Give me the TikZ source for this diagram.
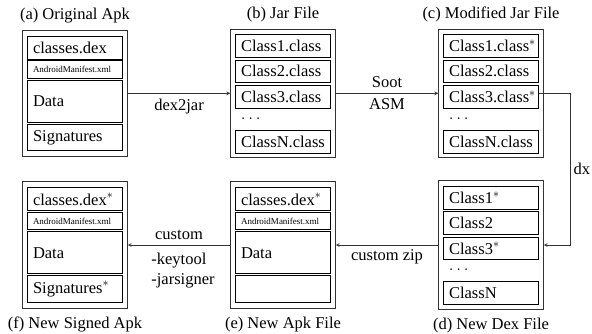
\documentclass[tikz,border=0pt]{standalone}
\usepackage{fontspec}
\setmainfont{Liberation Serif}
\usetikzlibrary{positioning}
\begin{document}
\begin{tikzpicture}[x=1pt,y=1pt,font=\fontsize{16.5}{20}\selectfont,
  box/.style={draw=black!80,line width=0.6pt,minimum width=105pt,inner sep=0pt},
  part/.style={draw,line width=0.8pt,anchor=north,minimum width=94.5pt,text width=84pt,inner xsep=5.25pt,inner ysep=0pt,align=left},
  small/.style={font=\fontsize{9}{10}\selectfont},
  flow/.style={-stealth,line width=0.7pt,black!80},
  lbl/.style={inner sep=5pt,text=black}]
\useasboundingbox(0,0)rectangle(592,-333);
\pgfmathsetmacro{\kup}{-93.3}
\pgfmathsetmacro{\kdn}{-245}
\pgfmathsetmacro{\kapk}{126.5}
\pgfmathsetmacro{\kjar}{128.5}
\pgfmathsetmacro{\kstep}{25.3}
% apk files
\foreach \c/\cx/\cy/\sa/\sb in {a/75/\kup/{classes.dex}/{Signatures},e/283/\kdn/{classes.dex$^*$}/{},f/75/\kdn/{classes.dex$^*$}/{Signatures$^*$}}{
  \draw(\cx,\cy)node[box,minimum height=\kapk](\c){};
  \node[part,minimum height=23](\c1)at([yshift=-6]\c.north){\sa};
  \node[part,small,minimum height=17.5](\c2)at([yshift=-30.5]\c.north){AndroidManifest.xml};
  \node[part,minimum height=42](\c3)at([yshift=-50]\c.north){Data};
  \node[part,minimum height=26.5](\c4)at([yshift=-94]\c.north){\sb};
}
% jar and dex files
\foreach \c/\cx/\cy/\la/\lb/\lc/\ln in {b/283/\kup/{Class1.class}/{Class2.class}/{Class3.class}/{ClassN.class},c/491/\kup/{Class1.class$^*$}/{Class2.class}/{Class3.class$^*$}/{ClassN.class},d/491/\kdn/{Class1$^*$}/{Class2}/{Class3$^*$}/{ClassN}}{
  \draw(\cx,\cy)node[box,minimum height=\kjar](\c){};
  \node[part,minimum height=22.8](\c1)at([yshift=-5.5]\c.north){\la};
  \node[part,minimum height=22.8](\c2)at([yshift=-5.5-\kstep]\c.north){\lb};
  \node[part,minimum height=22.8](\c3)at([yshift=-5.5-2*\kstep]\c.north){\lc};
  \node[anchor=west,inner sep=0pt](\c dots)at([xshift=5.25,yshift=-89.5]\c1.west|-\c.north){$\ldots$};
  \node[part,minimum height=22.8](\c4)at([yshift=-101]\c.north){\ln};
}
% titles
\node[above=6.5pt of a,inner sep=0pt](ta){(a) Original Apk};
\node[above=6.5pt of b,inner sep=0pt](tb){(b) Jar File};
\node[above=6.5pt of c,inner sep=0pt](tc){(c) Modified Jar File};
\node[below=8pt of d,inner sep=0pt](td){(d) New Dex File};
\node[below=8pt of e,inner sep=0pt](te){(e) New Apk File};
\node[below=8pt of f,inner sep=0pt](tf){(f) New Signed Apk};
% steps
\draw[flow](a)--node[lbl,below]{dex2jar}(b);
\draw[flow](b)--node[lbl,above]{Soot}node[lbl,below]{ASM}(c);
\draw[flow](c3.east|-c.east)--++(31.7,0)|-node[pos=0.25,right,inner sep=3pt,text=black]{dx}(d.east);
\draw[flow](d)--node[lbl,below,inner sep=4pt]{custom zip}(e);
\draw[flow](e)--node[lbl,above]{custom}node[lbl,below,align=left,xshift=4,yshift=-3]{-keytool\\-jarsigner}(f);
\end{tikzpicture}
\end{document}
